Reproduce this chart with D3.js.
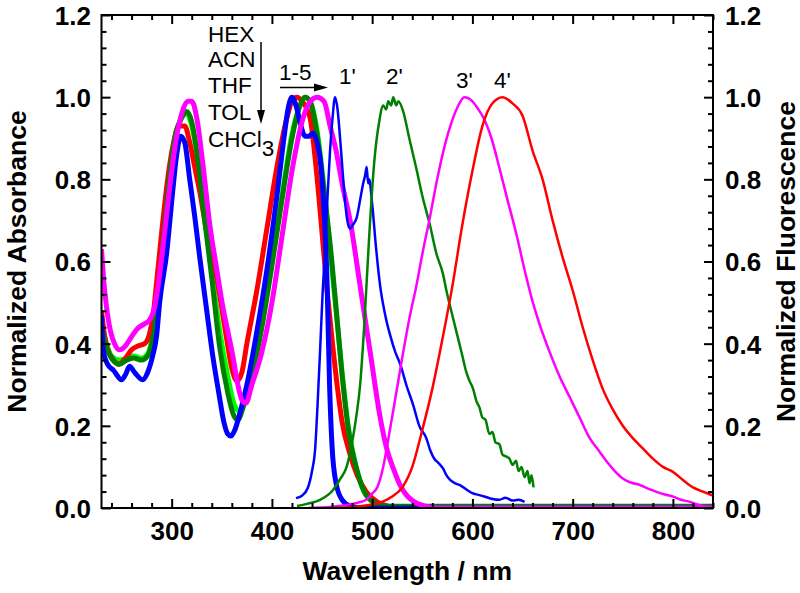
<!DOCTYPE html>
<html><head><meta charset="utf-8">
<script src="https://cdn.jsdelivr.net/npm/d3@7/dist/d3.min.js"></script>
<style>
html,body{margin:0;padding:0;background:#fff;}
svg{display:block;font-family:"Liberation Sans",Arial,Helvetica,sans-serif;}
</style></head>
<body><svg id="c" width="800" height="593"></svg>
<script>
// ---------- data (wavelength nm, normalized value) ----------
const xMajorTicks = [300, 400, 500, 600, 700, 800];
const yMajorTicks = [0.0, 0.2, 0.4, 0.6, 0.8, 1.0, 1.2];
const solventLabels = ["HEX", "ACN", "THF", "TOL", "CHCl"];
const emissionLabels = ["1'", "2'", "3'", "4'"];

// absorption spectra (thick lines)
const absRed = [[230,0.48],[233,0.42],[237,0.38],[242,0.36],[247,0.35],[254,0.365],[260,0.385],[267,0.395],[273,0.40],[278,0.425],[281.5,0.47],[285,0.55],[290,0.67],[296,0.80],[302,0.89],[307,0.93],[313,0.93],[318,0.89],[323,0.83],[328,0.77],[335,0.67],[345,0.56],[355,0.41],[360,0.34],[365,0.31],[370,0.33],[375,0.40],[385,0.53],[395,0.68],[405,0.83],[415,0.95],[420,0.99],[425,1.0],[430,0.99],[438,0.95],[444,0.83],[450,0.67],[455,0.53],[460,0.41],[465,0.30],[470,0.21],[478,0.13],[485,0.08],[494,0.04],[505,0.015],[515,0.005],[530,0],[840,0]];
const absLime = [[230,0.45],[235,0.40],[240,0.37],[248,0.36],[255,0.365],[262,0.37],[270,0.365],[276,0.375],[281,0.42],[286,0.50],[292,0.66],[298,0.81],[304,0.91],[310,0.95],[315,0.96],[320,0.93],[326,0.85],[332,0.73],[340,0.58],[348,0.43],[356,0.32],[362,0.255],[368,0.235],[374,0.27],[380,0.33],[390,0.45],[400,0.60],[410,0.76],[420,0.91],[428,0.98],[433,1.0],[438,0.99],[445,0.92],[452,0.78],[458,0.63],[464,0.48],[470,0.33],[476,0.20],[482,0.12],[490,0.05],[500,0.015],[510,0.005],[525,0],[840,0]];
const absGreen = [[230,0.44],[235,0.39],[240,0.365],[248,0.35],[255,0.36],[262,0.365],[270,0.36],[276,0.37],[281,0.41],[286,0.50],[292,0.66],[298,0.81],[304,0.91],[310,0.95],[315,0.965],[320,0.94],[326,0.85],[332,0.72],[340,0.56],[348,0.39],[356,0.28],[362,0.225],[366,0.215],[372,0.25],[380,0.32],[390,0.44],[400,0.59],[410,0.75],[420,0.90],[428,0.98],[433,1.0],[438,0.99],[445,0.91],[452,0.77],[459,0.62],[465,0.46],[471,0.30],[477,0.18],[484,0.10],[492,0.04],[501,0.015],[515,0.004],[840,0.004]];
const absBlue = [[230,0.47],[232,0.38],[236,0.35],[242,0.335],[250,0.312],[254,0.325],[258,0.345],[263,0.33],[271,0.312],[276,0.33],[281,0.37],[285,0.42],[288,0.50],[295,0.62],[301,0.77],[305,0.86],[309,0.905],[313,0.89],[318,0.80],[323,0.71],[328,0.61],[335,0.48],[341,0.37],[347,0.28],[352,0.21],[356,0.18],[359,0.175],[363,0.19],[368,0.23],[375,0.30],[385,0.43],[395,0.58],[405,0.76],[412,0.90],[416,0.97],[420,1.0],[424,0.98],[428,0.94],[433,0.905],[437,0.905],[441,0.913],[445,0.89],[449,0.83],[452,0.72],[455,0.55],[457.5,0.30],[460,0.15],[464,0.06],[470,0.02],[478,0.005],[490,0],[840,0]];
const absMagenta = [[230,0.63],[232,0.56],[235,0.49],[239,0.43],[243,0.40],[248,0.385],[254,0.395],[260,0.417],[266,0.437],[272,0.447],[278,0.458],[283,0.49],[287,0.55],[292,0.65],[298,0.78],[304,0.89],[310,0.96],[316,0.99],[320,0.99],[325,0.95],[331,0.84],[338,0.69],[345,0.58],[351,0.49],[356,0.43],[361,0.37],[366,0.30],[370,0.263],[374,0.255],[380,0.30],[390,0.38],[400,0.50],[410,0.66],[420,0.82],[430,0.94],[437,0.985],[445,1.0],[452,0.99],[458,0.93],[464,0.87],[470,0.79],[478,0.70],[488,0.54],[498,0.38],[508,0.22],[515,0.14],[521,0.097],[528,0.055],[534,0.032],[542,0.015],[552,0.005],[565,0],[840,0]];

// fluorescence spectra (thin lines)
const em1Blue = [[424,0.024],[430,0.03],[436,0.05],[440,0.09],[443,0.14],[445.5,0.25],[448,0.38],[450.5,0.52],[453,0.63],[455.5,0.76],[458,0.87],[460.5,0.95],[463,1.0],[465.5,0.97],[468,0.9],[470.5,0.82],[473,0.745],[476,0.69],[478,0.68],[481,0.69],[484.5,0.706],[488,0.75],[491,0.79],[493,0.81],[494.5,0.83],[496,0.79],[497,0.80],[500,0.74],[504,0.63],[508,0.54],[513,0.47],[518,0.42],[523,0.38],[528,0.35],[534,0.30],[541,0.25],[547,0.20],[554,0.17],[558,0.14],[562,0.12],[566,0.11],[571,0.095],[574,0.08],[578,0.068],[583,0.06],[588,0.055],[594,0.045],[600,0.036],[606,0.032],[612,0.028],[620,0.022],[627,0.02],[633,0.025],[640,0.018],[646,0.02],[652,0.015]];
const em2Green = [[425,0.005],[435,0.01],[448,0.02],[461,0.044],[468,0.07],[474.5,0.10],[480,0.16],[484,0.22],[488,0.30],[492,0.44],[497,0.66],[502,0.84],[507,0.94],[511,0.98],[514,0.97],[516,0.99],[519,0.98],[521,1.0],[524,0.98],[526,0.99],[531,0.965],[537,0.90],[544,0.827],[550,0.76],[557.5,0.69],[564,0.62],[570.8,0.568],[574,0.53],[580.7,0.462],[587,0.40],[590,0.37],[594,0.33],[597,0.31],[600.7,0.29],[604,0.26],[607,0.245],[610,0.22],[613,0.215],[617,0.18],[620,0.185],[623,0.16],[627,0.155],[630,0.13],[634,0.125],[637,0.12],[640,0.105],[643.5,0.115],[646,0.09],[649,0.10],[652,0.075],[655,0.09],[657,0.06],[659,0.08],[661,0.05]];
const em3Magenta = [[436,0],[460,0.003],[480,0.01],[494,0.02],[500,0.035],[505,0.05],[511,0.10],[517,0.18],[524,0.28],[531,0.38],[537,0.46],[544,0.54],[551,0.63],[557.5,0.706],[564,0.79],[571,0.868],[578,0.93],[585,0.975],[592,1.0],[600,0.99],[606,0.97],[611,0.95],[619,0.90],[627,0.827],[635,0.75],[644,0.665],[652,0.58],[660,0.503],[668,0.44],[677,0.38],[687,0.32],[697,0.27],[707,0.22],[717,0.17],[726,0.14],[734,0.113],[742,0.09],[750,0.072],[758,0.062],[767,0.056],[775,0.047],[783,0.04],[792,0.033],[800,0.028],[808,0.02],[817,0.015],[825,0.008],[833,0.003],[840,0]];
const em4Red = [[460,0],[490,0.005],[510,0.015],[520,0.028],[530,0.05],[540,0.10],[550,0.19],[560,0.29],[570,0.41],[580,0.54],[590,0.69],[600,0.82],[610,0.93],[620,0.985],[630,1.0],[640,0.985],[650,0.955],[660,0.87],[670,0.80],[680,0.70],[690,0.61],[700,0.53],[710,0.44],[720,0.36],[730,0.29],[740,0.24],[750,0.20],[760,0.17],[770,0.145],[780,0.12],[790,0.10],[800,0.088],[810,0.068],[820,0.05],[830,0.04],[840,0.03]];

// ---------- layout ----------
const M = {left:101.5, right:713, top:15, bottom:508};
const svg = d3.select("#c");
const x = d3.scaleLinear().domain([230, 840]).range([M.left, M.right]);
const y = d3.scaleLinear().domain([0, 1.2]).range([M.bottom, M.top]);

svg.append("defs").append("clipPath").attr("id","clip")
  .append("rect").attr("x",M.left).attr("y",M.top).attr("width",M.right-M.left).attr("height",M.bottom-M.top);

const line = d3.line().x(d=>x(d[0])).y(d=>y(d[1])).curve(d3.curveMonotoneX);
const plot = svg.append("g").attr("clip-path","url(#clip)");

const thick = [[absLime,"#00ff00"],[absRed,"#ff0000"],[absGreen,"#008000"],[absBlue,"#0000ff"],[absMagenta,"#ff00ff"]];
thick.forEach(([d,c])=>plot.append("path").attr("d",line(d)).attr("fill","none")
  .attr("stroke",c).attr("stroke-width",5).attr("stroke-linejoin","round"));
const thin = [[em1Blue,"#0000ff"],[em2Green,"#008000"],[em3Magenta,"#ff00ff"],[em4Red,"#ff0000"]];
thin.forEach(([d,c])=>plot.append("path").attr("d",line(d)).attr("fill","none")
  .attr("stroke",c).attr("stroke-width",2.5).attr("stroke-linejoin","round"));

// ---------- axes ----------
const xMinor = d3.range(240, 841, 20).filter(v=>v%100!==0);
const yMinor = d3.range(0.04, 1.2, 0.04).filter(v=>Math.abs(v*5-Math.round(v*5))>1e-6);
const fs = 26;
function styleAxis(g){ g.select(".domain").remove(); g.selectAll("line").attr("stroke","#000").attr("stroke-width",2);
  g.selectAll("text").attr("font-size",fs).attr("font-weight","bold").attr("fill","#000"); }

svg.append("g").attr("transform",`translate(0,${M.bottom})`)
  .call(d3.axisBottom(x).tickValues(xMajorTicks).tickSizeInner(-9).tickSizeOuter(0).tickPadding(13.5).tickFormat(d3.format("d"))).call(styleAxis);
svg.append("g").attr("transform",`translate(0,${M.bottom})`)
  .call(d3.axisBottom(x).tickValues(xMinor).tickSizeInner(-5).tickSizeOuter(0).tickFormat("")).call(styleAxis);
svg.append("g").attr("transform",`translate(0,${M.top})`)
  .call(d3.axisTop(x).tickValues(xMajorTicks).tickSizeInner(-9).tickSizeOuter(0).tickFormat("")).call(styleAxis);
svg.append("g").attr("transform",`translate(0,${M.top})`)
  .call(d3.axisTop(x).tickValues(xMinor).tickSizeInner(-5).tickSizeOuter(0).tickFormat("")).call(styleAxis);

const yl = svg.append("g").attr("transform",`translate(${M.left},0)`)
  .call(d3.axisLeft(y).tickValues(yMajorTicks).tickSizeInner(-9).tickSizeOuter(0).tickPadding(10.5).tickFormat(d3.format(".1f"))).call(styleAxis);
yl.selectAll("text").attr("dy","0.36em");
svg.append("g").attr("transform",`translate(${M.left},0)`)
  .call(d3.axisLeft(y).tickValues(yMinor).tickSizeInner(-5).tickSizeOuter(0).tickFormat("")).call(styleAxis);
const yr = svg.append("g").attr("transform",`translate(${M.right},0)`)
  .call(d3.axisRight(y).tickValues(yMajorTicks).tickSizeInner(-9).tickSizeOuter(0).tickPadding(12).tickFormat(d3.format(".1f"))).call(styleAxis);
yr.selectAll("text").attr("dy","0.36em");
svg.append("g").attr("transform",`translate(${M.right},0)`)
  .call(d3.axisRight(y).tickValues(yMinor).tickSizeInner(-5).tickSizeOuter(0).tickFormat("")).call(styleAxis);

svg.append("rect").attr("x",M.left).attr("y",M.top).attr("width",M.right-M.left).attr("height",M.bottom-M.top)
  .attr("fill","none").attr("stroke","#000").attr("stroke-width",2);

// titles
svg.append("text").attr("x",(M.left+M.right)/2).attr("y",580).attr("text-anchor","middle")
  .attr("font-size",26.5).attr("font-weight","bold").text("Wavelength / nm");
svg.append("text").attr("transform",`translate(26,${(M.top+M.bottom)/2}) rotate(-90)`).attr("text-anchor","middle")
  .attr("font-size",26.5).attr("font-weight","bold").text("Normalized Absorbance");
svg.append("text").attr("transform",`translate(795,${(M.top+M.bottom)/2}) rotate(-90)`).attr("text-anchor","middle")
  .attr("font-size",26.5).attr("font-weight","bold").text("Normalized Fluorescence");

// ---------- annotations ----------
const ann = svg.append("g").attr("font-size",22.5).attr("fill","#000");
const solvY = [42, 67, 93, 120, 147];
solventLabels.forEach((s,i)=>{
  const t = ann.append("text").attr("x",208).attr("y",solvY[i]).text(s);
  if(i===4) t.append("tspan").attr("dy",9).text("3");
});
// vertical arrow
ann.append("line").attr("x1",261).attr("y1",42).attr("x2",261).attr("y2",112).attr("stroke","#000").attr("stroke-width",1.5);
ann.append("path").attr("d","M257,110 L265,110 L261,124 Z").attr("fill","#000");
// 1-5 with horizontal arrow
ann.append("text").attr("x",279).attr("y",80).text("1-5");
ann.append("line").attr("x1",280).attr("y1",87.5).attr("x2",316).attr("y2",87.5).attr("stroke","#000").attr("stroke-width",1.5);
ann.append("path").attr("d","M314,83.5 L314,91.5 L328,87.5 Z").attr("fill","#000");
// emission labels
const emLabelPos = [[339,84],[386,84],[456,88],[494,88]];
emissionLabels.forEach((s,i)=>ann.append("text").attr("x",emLabelPos[i][0]).attr("y",emLabelPos[i][1]).text(s));
</script></body></html>
